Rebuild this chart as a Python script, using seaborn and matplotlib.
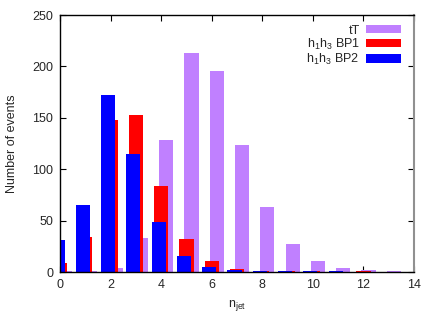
import numpy as np
import pandas as pd
import seaborn as sns
import matplotlib.pyplot as plt
from matplotlib.patches import Patch

n_jet = list(range(14))
tT = [1, 1, 4, 33, 128, 213, 196, 124, 63, 27, 11, 4, 2, 1]
bp1 = [9, 34, 148, 153, 84, 32, 11, 3, 1.5, 1, 1, 0.5, 1.5, 0]
bp2 = [31, 65, 172, 115, 49, 16, 5, 2, 1, 1, 1, 1, 0, 0]

labels = ['tT', 'h$_1$h$_3$ BP1', 'h$_1$h$_3$ BP2']
colors = ['#c080ff', '#ff0000', '#0000ff']
offsets = [0.2, 0.0, -0.1]  # purple drawn first, blue on top

sns.set_style("ticks")
plt.rcParams['font.family'] = ['Liberation Sans', 'DejaVu Sans']
plt.rcParams['mathtext.fontset'] = 'custom'
plt.rcParams['mathtext.rm'] = 'Liberation Sans'
plt.rcParams['mathtext.it'] = 'Liberation Sans'

fig = plt.figure(figsize=(4.36, 3.27), dpi=100)
ax = fig.add_axes([0.1376, 0.168, 0.812, 0.786])

for vals, col, off in zip([tT, bp1, bp2], colors, offsets):
    df = pd.DataFrame({'x': np.array(n_jet) + off, 'y': vals})
    sns.barplot(data=df, x='x', y='y', native_scale=True, width=0.56,
                color=col, saturation=1, ax=ax, linewidth=0, zorder=2)

ax.set_xlim(0, 14)
ax.set_ylim(0, 250)
ax.set_xticks(range(0, 15, 2))
ax.set_xticklabels([str(v) for v in range(0, 15, 2)])
ax.set_yticks(range(0, 251, 50))
ax.tick_params(direction='in', length=4, width=0.8, labelsize=9,
               top=True, right=True, color='black', pad=5)
for s in ax.spines.values():
    s.set_linewidth(1.0)
    s.set_color('black')
ax.spines['right'].set_color('#909090')
ax.spines['right'].set_linewidth(1.5)

ax.set_xlabel('n$_{\\rm jet}$', fontsize=9, labelpad=5)
ax.set_ylabel('Number of events', fontsize=9, labelpad=10)

handles = [Patch(facecolor=c, edgecolor='none', label=l) for c, l in zip(colors, labels)]
leg = ax.legend(handles=handles, loc='upper right', frameon=False, markerfirst=False,
                fontsize=9, handlelength=2.8, handleheight=0.65, handletextpad=0.5,
                labelspacing=0.0, borderaxespad=0.0, bbox_to_anchor=(0.977, 0.982))
# right-justify the labels like the original
for col in leg._legend_handle_box.get_children():
    col.align = 'right'

fig.savefig('out.png', dpi=100)
